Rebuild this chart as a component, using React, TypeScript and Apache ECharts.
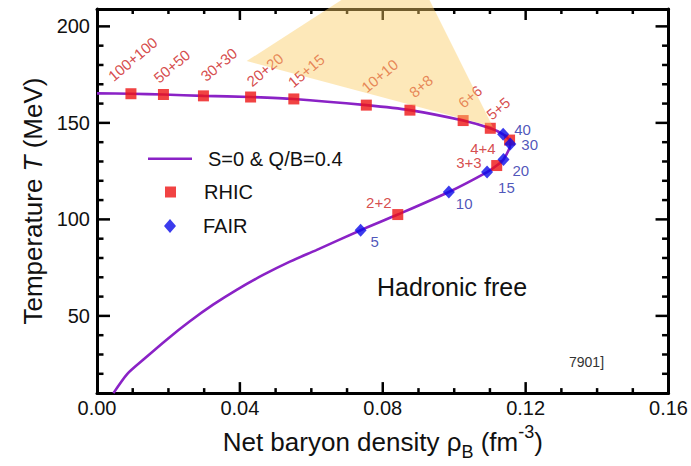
import React, { useEffect, useRef } from 'react';
import * as echarts from 'echarts';

const FONT = '"Liberation Sans", Arial, Helvetica, sans-serif';

// S=0 & Q/B=0.4 trajectory, [rho_B (fm^-3), T (MeV)], from the upper branch round the turn to the bottom
const eosCurve: [number, number][] = [
  [0.0, 165.3], [0.0095, 165.1], [0.0186, 164.7], [0.0298, 164.0], [0.043, 163.4],
  [0.0551, 162.4], [0.0754, 159.2], [0.0876, 156.6], [0.1025, 151.2], [0.1101, 147.2],
  [0.1137, 144.1], [0.1155, 141.1], [0.1157, 139.0], [0.1138, 131.0], [0.1119, 127.9],
  [0.1092, 124.5], [0.0985, 114.2], [0.0842, 102.5], [0.0738, 94.4], [0.0614, 84.1],
  [0.054, 78.1], [0.0465, 71.2], [0.0391, 63.5], [0.0325, 55.8], [0.026, 47.2],
  [0.0195, 37.7], [0.013, 27.4], [0.0085, 20.0], [0.0046, 10.0],
];

const rhicLabels = ['100+100', '50+50', '30+30', '20+20', '15+15', '10+10', '8+8', '6+6', '5+5', '4+4', '3+3', '2+2'];
const rhicRho = [0.0095, 0.0186, 0.0298, 0.043, 0.0551, 0.0754, 0.0876, 0.1025, 0.1101, 0.1155, 0.1119, 0.0842];
const rhicT = [165.1, 164.7, 164.0, 163.4, 162.4, 159.2, 156.6, 151.2, 147.2, 141.1, 127.9, 102.5];

const fairLabels = ['5', '10', '15', '20', '30', '40'];
const fairRho = [0.0738, 0.0985, 0.1092, 0.1138, 0.1157, 0.1137];
const fairT = [94.4, 114.2, 124.5, 131.0, 139.0, 144.1];

// shaded freeze-out wedge, [rho_B, T]
const wedge: [number, number][] = [[0.0419, 182.0], [0.0687, 214], [0.093, 214], [0.1108, 148.0]];

const X_MIN = 0;
const X_MAX = 0.16;
const Y_MIN = 10;
const Y_MAX = 209;
const xLabelTicks = [0, 0.04, 0.08, 0.12, 0.16];
const xMajorTicks = [0.04, 0.08, 0.12];
const xMinorTicks = [0.01, 0.02, 0.03, 0.05, 0.06, 0.07, 0.09, 0.1, 0.11, 0.13, 0.14, 0.15];
const yMajorTicks = [50, 100, 150, 200];
const yMinorTicks = [20, 30, 40, 60, 70, 80, 90, 110, 120, 130, 140, 160, 170, 180, 190];

// label placement (pixels from marker centre)
const rhicLabelPlace = [
  { dx: -16, dy: -10, rotate: 40, align: 'left' },
  { dx: -3, dy: -9, rotate: 40, align: 'left' },
  { dx: 4, dy: -12, rotate: 40, align: 'left' },
  { dx: 3, dy: -8, rotate: 40, align: 'left' },
  { dx: 1, dy: -9, rotate: 40, align: 'left' },
  { dx: 2, dy: -10, rotate: 40, align: 'left' },
  { dx: 6, dy: -10, rotate: 40, align: 'left' },
  { dx: 2, dy: -10, rotate: 40, align: 'left' },
  { dx: 3, dy: -6, rotate: 40, align: 'left' },
  { dx: -14, dy: 8, rotate: 0, align: 'right' },
  { dx: -15, dy: -3, rotate: 0, align: 'right' },
  { dx: -19, dy: -12, rotate: 0, align: 'center' },
];
const fairLabelPlace = [
  { dx: 10, dy: 11 }, { dx: 7, dy: 12 }, { dx: 11, dy: 15 },
  { dx: 9, dy: 11 }, { dx: 11, dy: 0 }, { dx: 11, dy: -5 },
];

const LINE_NAME = 'S=0 & Q/B=0.4';
const RED_TEXT = '#cc2020';
const BLUE_TEXT = '#1f2aa8';
const SQ = 11;
const DIA: [number, number] = [12, 13];
const TICK_W = 2.5;

const App: React.FC = () => {
  const ref = useRef<HTMLDivElement>(null);

  useEffect(() => {
    if (!ref.current) return;
    document.body.style.margin = '0';
    const chart = echarts.init(ref.current, undefined, { renderer: 'svg' });

    const rhicData = rhicLabels.map((name, i) => {
      const p = rhicLabelPlace[i];
      return {
        name,
        value: [rhicRho[i], rhicT[i]],
        label: {
          show: true,
          formatter: name,
          position: [SQ / 2 + p.dx, SQ / 2 + p.dy],
          rotate: p.rotate,
          align: p.align,
          verticalAlign: p.rotate ? 'bottom' : 'middle',
          color: RED_TEXT,
          fontSize: 15,
          fontFamily: FONT,
        },
      };
    });

    const fairData = fairLabels.map((name, i) => {
      const p = fairLabelPlace[i];
      return {
        name,
        value: [fairRho[i], fairT[i]],
        label: {
          show: true,
          formatter: name,
          position: [DIA[0] / 2 + p.dx, DIA[1] / 2 + p.dy],
          align: 'left',
          verticalAlign: 'middle',
          color: BLUE_TEXT,
          fontSize: 15,
          fontFamily: FONT,
        },
      };
    });

    const labelStyle = { fontSize: 20, fontFamily: FONT, color: '#111' };
    const frameLine = { show: true, onZero: false, lineStyle: { color: '#000', width: 3 } };

    chart.setOption({
      animation: false,
      backgroundColor: '#fff',
      grid: { left: 97, right: 21, top: 9, bottom: 71 },
      legend: [
        {
          data: [{ name: LINE_NAME, icon: 'rect' }], left: 148, top: 148.7, padding: 0, itemWidth: 44, itemHeight: 2.6,
          selectedMode: false, textStyle: { ...labelStyle, padding: [0, 0, 0, 11] },
        },
        {
          data: [{ name: 'RHIC', icon: 'rect' }], left: 165, top: 182, padding: 0, itemWidth: SQ, itemHeight: SQ,
          selectedMode: false, textStyle: { ...labelStyle, padding: [0, 0, 0, 23] },
        },
        {
          data: [{ name: 'FAIR', icon: 'diamond' }], left: 164, top: 216, padding: 0, itemWidth: DIA[0], itemHeight: 14,
          selectedMode: false, textStyle: { ...labelStyle, padding: [0, 0, 0, 22] },
        },
      ],
      xAxis: [
        {
          type: 'value',
          position: 'bottom',
          min: X_MIN,
          max: X_MAX,
          interval: 0.04,
          splitLine: { show: false },
          axisLine: frameLine,
          axisTick: { show: false },
          axisLabel: {
            ...labelStyle,
            margin: 5,
            customValues: xLabelTicks,
            formatter: (v: number) => v.toFixed(2),
          },
          name: 'Net baryon density ρ{sub|B} (fm{sup|-3})',
          nameLocation: 'middle',
          nameGap: 15,
          nameTextStyle: {
            fontSize: 26,
            fontFamily: FONT,
            color: '#111',
            lineHeight: 38,
            rich: {
              sub: { fontSize: 18, fontFamily: FONT, color: '#111', verticalAlign: 'bottom', lineHeight: 18 },
              sup: { fontSize: 18, fontFamily: FONT, color: '#111', verticalAlign: 'top', lineHeight: 18 },
            },
          },
        },
        {
          type: 'value',
          position: 'top',
          min: X_MIN,
          max: X_MAX,
          interval: 0.04,
          splitLine: { show: false },
          axisLine: frameLine,
          axisTick: { show: false },
          axisLabel: { show: false },
        },
      ],
      yAxis: [
        {
          type: 'value',
          position: 'left',
          min: Y_MIN,
          max: Y_MAX,
          splitLine: { show: false },
          axisLine: frameLine,
          axisTick: { show: false },
          axisLabel: { ...labelStyle, margin: 7, customValues: yMajorTicks },
          name: 'Temperature {i|T} (MeV)',
          nameLocation: 'middle',
          nameGap: 44,
          nameTextStyle: {
            fontSize: 26,
            fontFamily: FONT,
            color: '#111',
            rich: { i: { fontSize: 26, fontFamily: FONT, color: '#111', fontStyle: 'italic' } },
          },
        },
        {
          type: 'value',
          position: 'right',
          min: Y_MIN,
          max: Y_MAX,
          splitLine: { show: false },
          axisLine: frameLine,
          axisTick: { show: false },
          axisLabel: { show: false },
        },
      ],
      graphic: [
        {
          type: 'text', left: 377, top: 274,
          style: { text: 'Hadronic free', fontSize: 25, fontFamily: FONT, fill: '#111' },
        },
        {
          type: 'text', left: 569, top: 355,
          style: { text: '7901]', fontSize: 14, fontFamily: FONT, fill: '#333' },
        },
      ],
      series: [
        {
          name: LINE_NAME,
          type: 'line',
          data: eosCurve,
          symbol: 'none',
          smooth: 0.25,
          z: 2,
          lineStyle: { color: '#8a22c6', width: 2.6 },
          itemStyle: { color: '#8a22c6' },
        },
        {
          name: 'RHIC',
          type: 'scatter',
          symbol: 'rect',
          symbolSize: SQ,
          z: 3,
          itemStyle: { color: '#ee1414' },
          data: rhicData,
        },
        {
          name: 'FAIR',
          type: 'scatter',
          symbol: 'diamond',
          symbolSize: DIA,
          z: 4,
          itemStyle: { color: '#0a0ae8' },
          data: fairData,
        },
        {
          type: 'custom',
          coordinateSystem: 'cartesian2d',
          silent: true,
          clip: false,
          z: 10,
          data: [wedge[0]],
          renderItem: (_params: any, api: any) => ({
            type: 'polygon',
            shape: { points: wedge.map((p) => api.coord(p)) },
            style: { fill: 'rgba(250, 205, 100, 0.45)' },
          }),
        },
      ],
    });

    // inward tick marks: positions come from the axes' own scales, drawn once the grid exists
    const toPx = (pt: number[]) => chart.convertToPixel({ gridIndex: 0 }, pt) as number[];
    const [x0, y0] = toPx([X_MIN, Y_MIN]);
    const [x1, y1] = toPx([X_MAX, Y_MAX]);
    const tickMarks: any[] = [];
    const bar = (x: number, y: number, w: number, h: number) =>
      tickMarks.push({
        type: 'rect',
        silent: true,
        z: 5,
        shape: { x, y, width: w, height: h },
        style: { fill: '#000' },
      });
    const xTicks = (vals: number[], len: number) =>
      vals.forEach((v) => {
        const x = toPx([v, Y_MIN])[0];
        bar(x - TICK_W / 2, y0 - len, TICK_W, len);
        bar(x - TICK_W / 2, y1, TICK_W, len);
      });
    const yTicks = (vals: number[], len: number) =>
      vals.forEach((v) => {
        const y = toPx([X_MIN, v])[1];
        bar(x0, y - TICK_W / 2, len, TICK_W);
        bar(x1 - len, y - TICK_W / 2, len, TICK_W);
      });
    xTicks(xMajorTicks, 11);
    xTicks(xMinorTicks, 5);
    yTicks(yMajorTicks, 13);
    yTicks(yMinorTicks, 6.5);
    chart.setOption({
      graphic: [
        {
          type: 'text', left: 377, top: 274,
          style: { text: 'Hadronic free', fontSize: 25, fontFamily: FONT, fill: '#111' },
        },
        {
          type: 'text', left: 569, top: 355,
          style: { text: '7901]', fontSize: 14, fontFamily: FONT, fill: '#333' },
        },
        ...tickMarks,
      ],
    });

    return () => {
      chart.dispose();
    };
  }, []);

  return <div ref={ref} style={{ width: 691, height: 466 }} />;
};

export default App;
